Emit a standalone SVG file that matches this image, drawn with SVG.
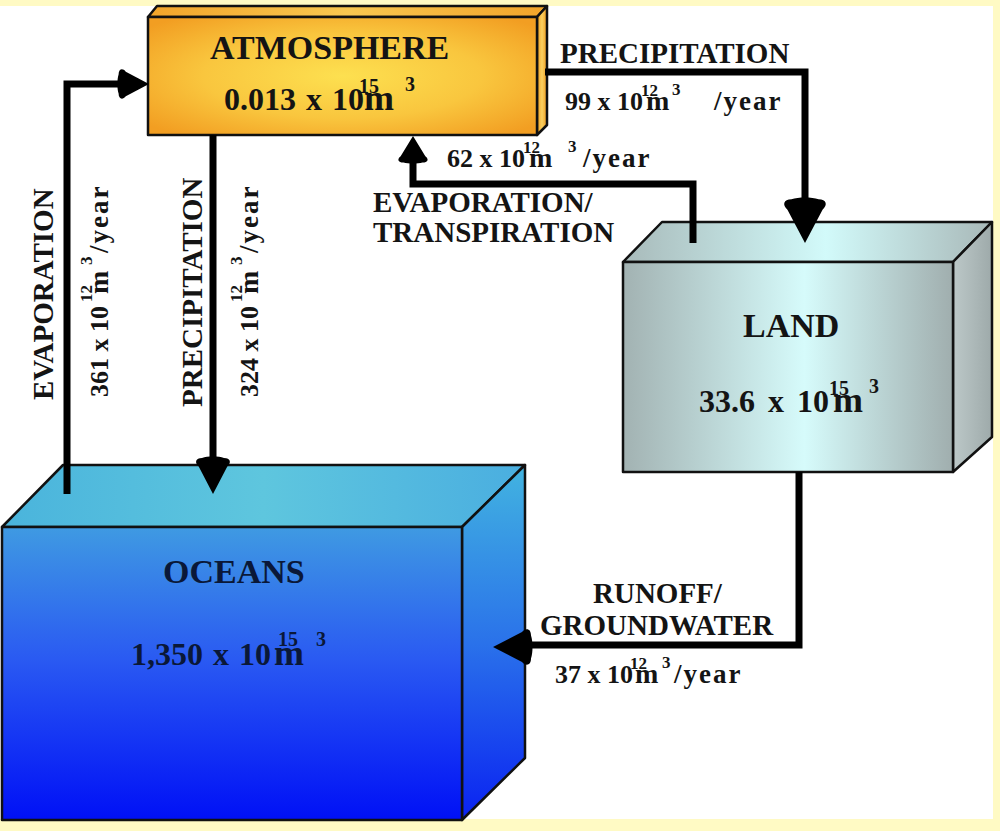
<svg xmlns="http://www.w3.org/2000/svg" width="1000" height="831" viewBox="0 0 1000 831">
<defs>
  <radialGradient id="atmFront" cx="50%" cy="50%" r="65%">
    <stop offset="0" stop-color="#fde050"/>
    <stop offset="0.55" stop-color="#f9c63e"/>
    <stop offset="1" stop-color="#f29e22"/>
  </radialGradient>
  <linearGradient id="atmTop" x1="0" y1="0" x2="1" y2="0">
    <stop offset="0" stop-color="#f2a42a"/>
    <stop offset="0.5" stop-color="#f9c850"/>
    <stop offset="1" stop-color="#f2a42a"/>
  </linearGradient>
  <linearGradient id="atmSide" x1="0" y1="0" x2="1" y2="0">
    <stop offset="0" stop-color="#f0a020"/>
    <stop offset="0.5" stop-color="#fbd060"/>
    <stop offset="1" stop-color="#ee9a1c"/>
  </linearGradient>
  <linearGradient id="landFront" x1="0" y1="0" x2="1" y2="0">
    <stop offset="0" stop-color="#a2b2b2"/>
    <stop offset="0.55" stop-color="#d6fbfb"/>
    <stop offset="1" stop-color="#a0aeae"/>
  </linearGradient>
  <linearGradient id="landTop" x1="0" y1="0" x2="1" y2="0">
    <stop offset="0" stop-color="#a8baba"/>
    <stop offset="0.55" stop-color="#d2fafa"/>
    <stop offset="1" stop-color="#a8b8b8"/>
  </linearGradient>
  <linearGradient id="landSide" x1="0" y1="0" x2="1" y2="0">
    <stop offset="0" stop-color="#bcc8c8"/>
    <stop offset="1" stop-color="#9eaaaa"/>
  </linearGradient>
  <linearGradient id="oceanFront" x1="0" y1="0" x2="0" y2="1">
    <stop offset="0" stop-color="#3f9ae2"/>
    <stop offset="0.45" stop-color="#2a5af2"/>
    <stop offset="1" stop-color="#0010f6"/>
  </linearGradient>
  <linearGradient id="oceanTop" x1="0" y1="0" x2="1" y2="0">
    <stop offset="0" stop-color="#4ab4dc"/>
    <stop offset="0.5" stop-color="#5ec6de"/>
    <stop offset="1" stop-color="#4aaee0"/>
  </linearGradient>
  <linearGradient id="oceanSide" x1="0" y1="0" x2="0" y2="1">
    <stop offset="0" stop-color="#42b4e0"/>
    <stop offset="0.5" stop-color="#2a72ea"/>
    <stop offset="1" stop-color="#0a22f2"/>
  </linearGradient>
  <path id="ah" d="M0,0 L-13,-29 C-17,-33 -16,-38 -10,-38 C-5,-40 5,-40 10,-38 C16,-38 17,-33 13,-29 Z"/>
  <style>
    text { font-family: "Liberation Serif", "Times New Roman", serif; font-weight: bold; fill: #141414; }
    .ttl { font-size: 34px; }
    .qty { font-size: 32px; }
    .sup { font-size: 20px; }
    .mq { font-size: 36px; }
    .lbl { font-size: 29px; }
    .num { font-size: 26px; }
    .nsup { font-size: 17px; }
    .mn { font-size: 28px; }
    .yr { font-size: 27px; letter-spacing: 2px; }
    .ocean text { fill: #0a1838; }
    .edge { stroke: #111; stroke-width: 2.5; stroke-linejoin: round; }
    .flow { fill: none; stroke: #000; stroke-width: 7; stroke-linejoin: miter; }
    .head { fill: #000; }
  </style>
</defs>

<rect x="0" y="0" width="1000" height="831" fill="#fffac4"/>
<rect x="0" y="6" width="993" height="813" fill="#ffffff"/>

<g id="atmosphere">
  <polygon class="edge" points="148,17 157,6 547,6 537,17" fill="url(#atmTop)"/>
  <polygon class="edge" points="537,17 547,6 547,125 537,135" fill="url(#atmSide)"/>
  <rect class="edge" x="148" y="17" width="389" height="118" fill="url(#atmFront)"/>
  <text class="ttl" x="210" y="59">ATMOSPHERE</text>
  <text class="qty" x="224" y="110" word-spacing="2">0.013 x 10<tspan class="sup" x="359" y="93">15</tspan><tspan class="mq" x="364" y="110">m</tspan><tspan class="sup" x="405" y="91">3</tspan></text>
</g>

<g id="land">
  <polygon class="edge" points="623,262 662,222 992,222 953,262" fill="url(#landTop)"/>
  <polygon class="edge" points="953,262 992,222 992,437 953,472" fill="url(#landSide)"/>
  <rect class="edge" x="623" y="262" width="330" height="210" fill="url(#landFront)"/>
  <text class="ttl" x="743" y="337">LAND</text>
  <text class="qty" x="699" y="412" font-size="36" word-spacing="5">33.6 x 10<tspan class="sup" font-size="21" x="829" y="395">15</tspan><tspan class="mq" x="833" y="412">m</tspan><tspan class="sup" font-size="21" x="869" y="393">3</tspan></text>
</g>

<g id="oceans" class="ocean">
  <polygon class="edge" points="2,527 63,465 525,465 462,527" fill="url(#oceanTop)"/>
  <polygon class="edge" points="462,527 525,465 525,758 462,820" fill="url(#oceanSide)"/>
  <rect class="edge" x="2" y="527" width="460" height="293" fill="url(#oceanFront)"/>
  <text class="ttl" x="163" y="583">OCEANS</text>
  <text class="qty" x="131" y="665" word-spacing="2">1,350 x 10<tspan class="sup" x="278" y="646">15</tspan><tspan class="mq" x="274" y="665">m</tspan><tspan class="sup" x="316" y="646">3</tspan></text>
</g>

<g id="connectors">
  <polyline class="flow" points="67,494 67,84 122,84"/>
  <use href="#ah" class="head" transform="translate(149,84) rotate(-90) scale(0.95,0.8)"/>
  <polyline class="flow" points="213,135 213,462"/>
  <use href="#ah" class="head" transform="translate(213,494) scale(1.1,0.95)"/>
  <polyline class="flow" points="545,72 805,72 805,205"/>
  <use href="#ah" class="head" transform="translate(805,243) scale(1.35,1.15)"/>
  <polyline class="flow" points="693,243 693,184 413,184 413,158"/>
  <use href="#ah" class="head" transform="translate(413,136) rotate(180) scale(0.95,0.7)"/>
  <polyline class="flow" points="799,472 799,645 532,645"/>
  <use href="#ah" class="head" transform="translate(493,647) rotate(90) scale(1.15,1.0)"/>
</g>

<g id="label-evap-ocean">
  <text class="lbl" transform="translate(53,400) rotate(-90)">EVAPORATION</text>
  <text class="num" transform="translate(108,397) rotate(-90)">361 x 10<tspan class="nsup" x="95" y="-16">12</tspan><tspan class="mn" x="103" y="0">m</tspan><tspan class="nsup" x="132" y="-16">3</tspan><tspan class="yr" x="144" y="0">/year</tspan></text>
</g>

<g id="label-precip-ocean">
  <text class="lbl" transform="translate(202,407) rotate(-90)">PRECIPITATION</text>
  <text class="num" transform="translate(258,397) rotate(-90)">324 x 10<tspan class="nsup" x="95" y="-16">12</tspan><tspan class="mn" x="103" y="0">m</tspan><tspan class="nsup" x="132" y="-16">3</tspan><tspan class="yr" x="144" y="0">/year</tspan></text>
</g>

<g id="label-precip-land">
  <text class="lbl" x="560" y="63">PRECIPITATION</text>
  <text class="num" x="565" y="110">99 x 10<tspan class="nsup" x="641" y="96">12</tspan><tspan class="mn" x="646" y="110">m</tspan><tspan class="nsup" x="672" y="95">3</tspan><tspan class="yr" font-size="28" letter-spacing="1" x="714" y="110">/year</tspan></text>
</g>

<g id="label-evap-land">
  <text class="num" x="447" y="167">62 x 10<tspan class="nsup" x="523" y="153">12</tspan><tspan class="mn" x="529" y="167">m</tspan><tspan class="nsup" x="568" y="152">3</tspan><tspan class="yr" x="583" y="167">/year</tspan></text>
  <text class="lbl" x="373" y="212">EVAPORATION/</text>
  <text class="lbl" x="373" y="242">TRANSPIRATION</text>
</g>

<g id="label-runoff">
  <text class="lbl" x="593" y="603">RUNOFF/</text>
  <text class="lbl" x="540" y="635">GROUNDWATER</text>
  <text class="num" x="555" y="683">37 x 10<tspan class="nsup" x="630" y="669">12</tspan><tspan class="mn" x="635" y="683">m</tspan><tspan class="nsup" x="662" y="668">3</tspan><tspan class="yr" font-size="28" letter-spacing="3" x="674" y="683">/year</tspan></text>
</g>
</svg>
